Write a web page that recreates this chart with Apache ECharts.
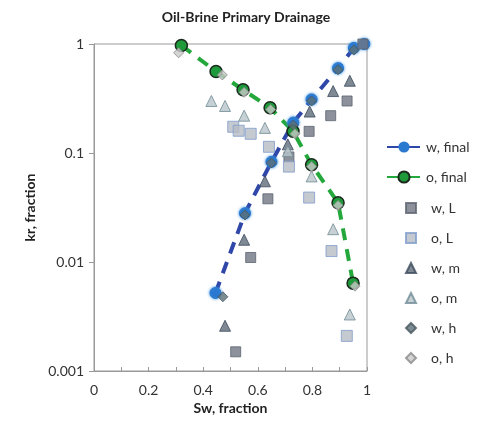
<!DOCTYPE html>
<html>
<head>
<meta charset="utf-8">
<script src="https://cdn.jsdelivr.net/npm/echarts@6/dist/echarts.min.js"></script>
<style>
html, body { margin: 0; padding: 0; background: #fff; }
#main { width: 480px; height: 427px; }
</style>
</head>
<body>
<div id="main"></div>
<script>
// Sw, kr pairs
var wFinal = [[0.445, 0.0052], [0.553, 0.028], [0.65, 0.083], [0.73, 0.19], [0.797, 0.31], [0.894, 0.6], [0.952, 0.92], [0.99, 1.0]];
var oFinal = [[0.32, 0.97], [0.447, 0.56], [0.546, 0.38], [0.645, 0.26], [0.729, 0.158], [0.797, 0.078], [0.894, 0.035], [0.949, 0.0064]];
var wL = [[0.519, 0.0015], [0.574, 0.011], [0.637, 0.038], [0.714, 0.092], [0.788, 0.158], [0.867, 0.22], [0.927, 0.30], [0.985, 1.0]];
var oL = [[0.51, 0.174], [0.53, 0.16], [0.574, 0.15], [0.641, 0.114], [0.714, 0.075], [0.788, 0.039], [0.87, 0.0126], [0.926, 0.0021]];
var wM = [[0.48, 0.0026], [0.55, 0.016], [0.626, 0.055], [0.71, 0.12], [0.79, 0.24], [0.876, 0.37], [0.937, 0.46]];
var oM = [[0.43, 0.30], [0.48, 0.27], [0.55, 0.22], [0.626, 0.17], [0.71, 0.104], [0.797, 0.061], [0.876, 0.02], [0.937, 0.0033]];
var wH = [[0.472, 0.0048], [0.553, 0.027], [0.65, 0.081], [0.73, 0.18], [0.797, 0.30], [0.894, 0.58], [0.952, 0.88]];
var oH = [[0.31, 0.83], [0.47, 0.52], [0.55, 0.36], [0.647, 0.25], [0.736, 0.15], [0.797, 0.075], [0.894, 0.033], [0.956, 0.006]];

var xTicks = [0, 0.2, 0.4, 0.6, 0.8, 1];
var yTicks = [0.001, 0.01, 0.1, 1];

var font = 'Lato, "Open Sans", sans-serif';
var myChart = echarts.init(document.getElementById('main'));

function scatter(name, data, symbol, size, fill, border) {
	return {
		name: name,
		type: 'scatter',
		data: data,
		symbol: symbol,
		symbolSize: size,
		itemStyle: { color: fill, borderColor: border, borderWidth: 1 },
		z: 3
	};
}

var option = {
	backgroundColor: '#fff',
	animation: false,
	title: {
		text: 'Oil-Brine Primary Drainage',
		left: 241,
		top: 5,
		textAlign: 'center',
		textStyle: { fontFamily: font, fontSize: 14, fontWeight: 'bold', color: '#222' }
	},
	legend: [{
		// line series
		orient: 'vertical',
		left: 381,
		top: 134,
		itemWidth: 34,
		itemHeight: 14,
		itemGap: 14,
		textStyle: { fontFamily: font, fontSize: 14, color: '#333', lineHeight: 16 },
		data: ['w, final', 'o, final']
	}, {
		// scatter series
		orient: 'vertical',
		left: 400,
		top: 195,
		itemWidth: 10,
		itemHeight: 10,
		itemGap: 14,
		textStyle: { fontFamily: font, fontSize: 14, color: '#333', lineHeight: 16, padding: [0, 0, 0, 10] },
		data: ['w, L', 'o, L', 'w, m', 'o, m', 'w, h', 'o, h']
	}],
	grid: {
		left: 94, right: 113, top: 44, bottom: 56,
		show: true, borderColor: '#999', borderWidth: 1
	},
	xAxis: {
		type: 'value',
		min: xTicks[0],
		max: xTicks[xTicks.length - 1],
		interval: 0.2,
		name: 'Sw, fraction',
		nameLocation: 'middle',
		nameGap: 30,
		nameTextStyle: { fontFamily: font, fontSize: 14, fontWeight: 'bold', color: '#222' },
		axisLine: { lineStyle: { color: '#999' } },
		axisTick: { inside: true, length: 4, lineStyle: { color: '#999' } },
		minorTick: { show: true, splitNumber: 2, length: 4, lineStyle: { color: '#999' } },
		splitLine: { show: false },
		axisLabel: { fontFamily: font, fontSize: 14, color: '#333', margin: 12 }
	},
	yAxis: {
		type: 'log',
		logBase: 10,
		min: yTicks[0],
		max: yTicks[yTicks.length - 1],
		name: 'kr, fraction',
		nameLocation: 'middle',
		nameGap: 56,
		nameTextStyle: { fontFamily: font, fontSize: 14, fontWeight: 'bold', color: '#222' },
		axisLine: { show: true, lineStyle: { color: '#999' } },
		axisTick: { show: true, length: 5, lineStyle: { color: '#999' } },
		splitLine: { show: false },
		axisLabel: {
			fontFamily: font, fontSize: 14, color: '#333', margin: 10,
			formatter: function (v) { return String(+v.toPrecision(3)); }
		}
	},
	series: [
		{
			name: 'w, final',
			type: 'line',
			data: wFinal,
			symbol: 'circle',
			symbolSize: 11,
			lineStyle: { color: '#2f47a8', width: 4, type: [12, 9] },
			itemStyle: { color: '#2a78d0', borderColor: '#2a78d0', shadowBlur: 3, shadowColor: '#3a90e0' },
			z: 2
		},
		{
			name: 'o, final',
			type: 'line',
			data: oFinal,
			symbol: 'circle',
			symbolSize: 12,
			lineStyle: { color: '#24a83c', width: 4, type: [12, 9] },
			itemStyle: { color: '#1f9a3a', borderColor: '#1b2a1e', borderWidth: 1.5 },
			z: 2
		},
		scatter('w, L', wL, 'rect', 10, '#6f7682', '#5b6470'),
		scatter('o, L', oL, 'rect', 11, '#b6bbc4', '#7f9ccc'),
		scatter('w, m', wM, 'triangle', 11, '#5f6b79', '#3b4a5c'),
		scatter('o, m', oM, 'triangle', 11, '#b8c4cb', '#6f8b95'),
		scatter('w, h', wH, 'diamond', 10, '#5c7078', '#45565e'),
		scatter('o, h', oH, 'diamond', 10, '#c9c9c9', '#8a8a8a')
	]
};

myChart.clear();
myChart.setOption(option);
</script>
</body>
</html>
